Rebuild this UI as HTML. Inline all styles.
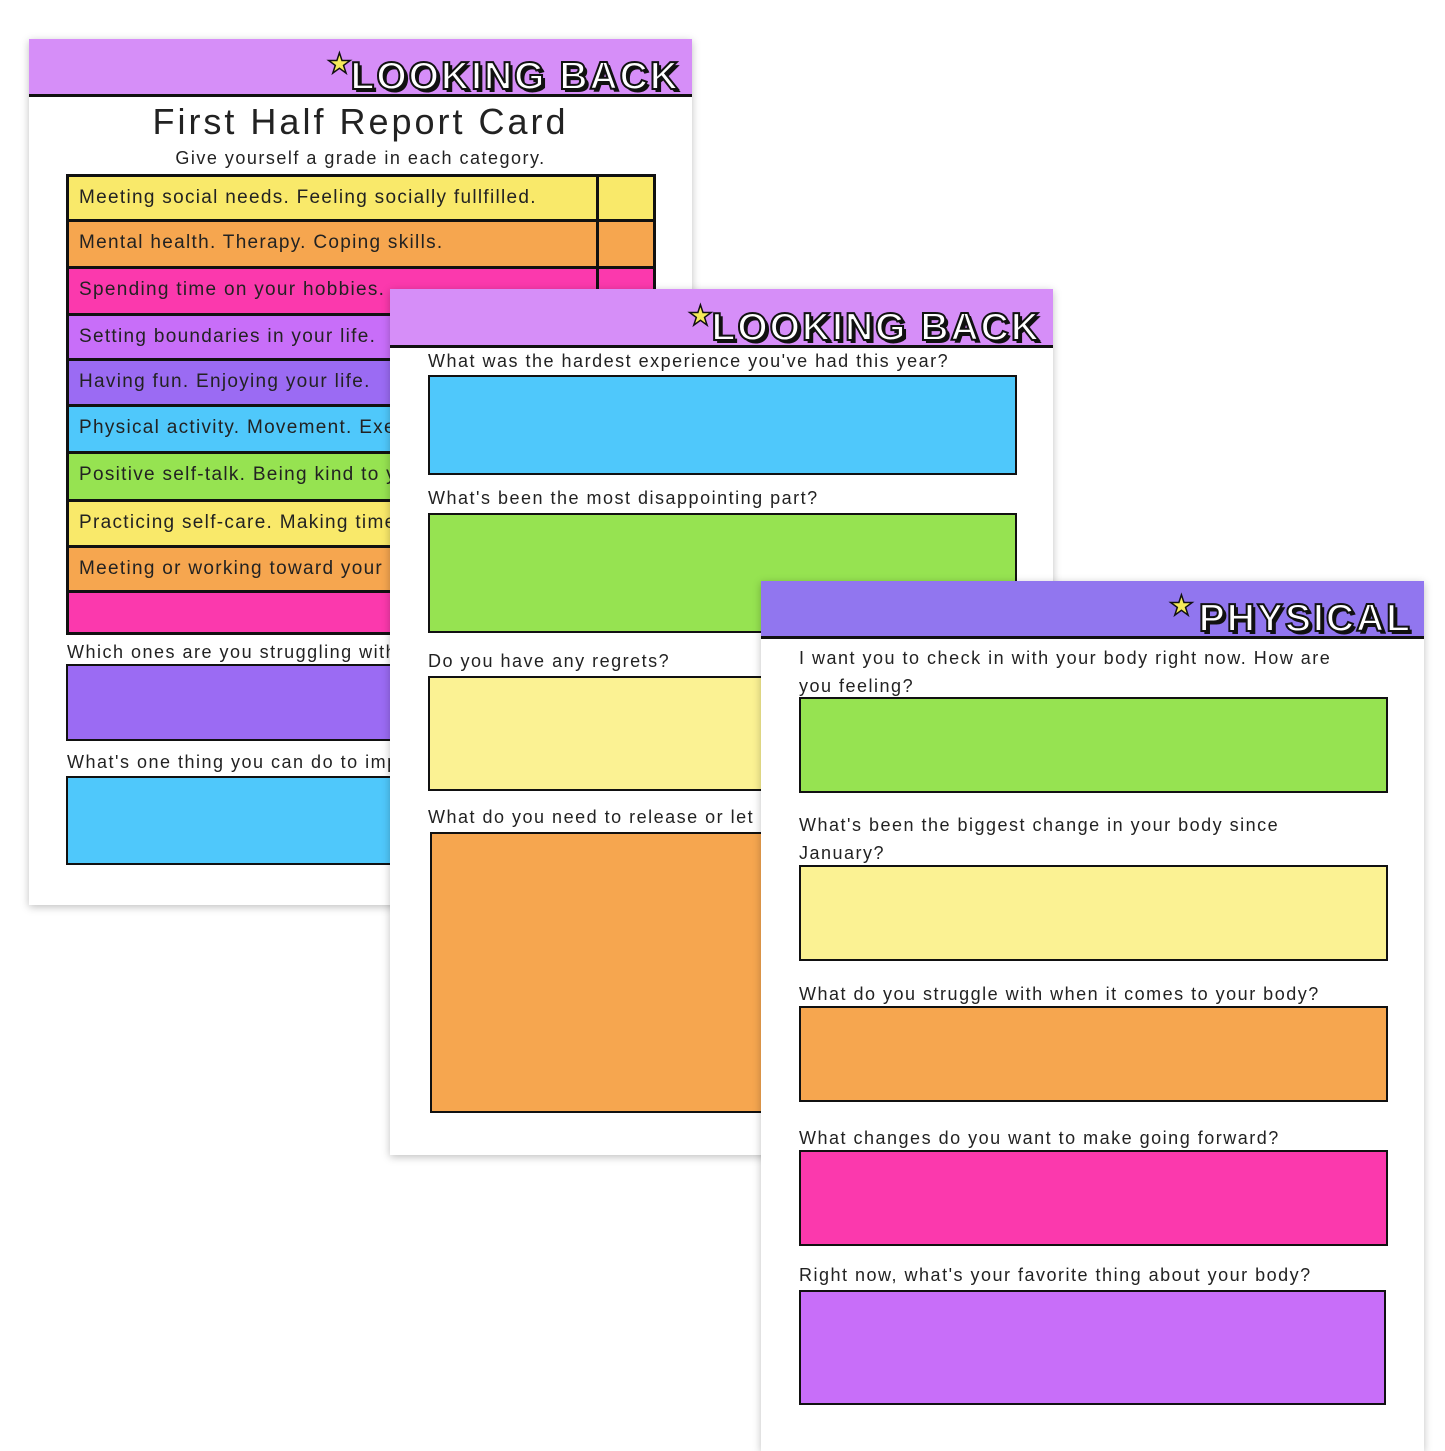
<!DOCTYPE html><html><head><meta charset="utf-8"><style>
body{margin:0;width:1445px;height:1445px;background:#fff;position:relative;overflow:hidden;font-family:"Liberation Sans",sans-serif;color:#222}
.pg{position:absolute;background:#fff;box-shadow:0 2px 8px rgba(0,0,0,.25)}
.hd{position:absolute;left:0;right:0;top:0;border-bottom:3px solid #111}
.tt{position:absolute;right:12px;bottom:-5px;font-weight:bold;font-size:39px;color:#fff;letter-spacing:2px;-webkit-text-stroke:2px #111;text-shadow:3px 3px 0 #111}
.st{position:absolute;color:#f5ea5a;font-size:28px;-webkit-text-stroke:1.5px #111}
.a{position:absolute}
.bx{position:absolute;border:2.5px solid #111;box-sizing:border-box}
.q{position:absolute;font-size:18px;letter-spacing:1.5px;white-space:nowrap}
.row{position:absolute;left:0;width:100%;border-bottom:3px solid #111;box-sizing:border-box;font-size:19px;letter-spacing:1.3px;padding-left:10px;line-height:42px;white-space:nowrap;overflow:hidden}
</style></head><body>
<div class="pg" style="left:29px;top:39px;width:663px;height:866px">
 <div class="hd" style="height:55px;background:#d68ef8"><span class="st" style="right:340px;top:8px">★</span><div class="tt">LOOKING BACK</div></div>
 <div class="a" style="left:0;width:663px;text-align:center;top:62px;font-size:36px;letter-spacing:3px">First Half Report Card</div>
 <div class="a" style="left:0;width:663px;text-align:center;top:109px;font-size:18px;letter-spacing:1.5px">Give yourself a grade in each category.</div>
 <div class="bx" style="left:37px;top:135px;width:590px;height:461px;border-width:3px;overflow:hidden">
  <div class="row" style="top:0;height:45px;background:#f9e96a">Meeting social needs. Feeling socially fullfilled.</div>
  <div class="row" style="top:45px;height:47px;background:#f6a64f">Mental health. Therapy. Coping skills.</div>
  <div class="row" style="top:92px;height:47px;background:#fb39ad">Spending time on your hobbies.</div>
  <div class="row" style="top:139px;height:45px;background:#c86ef9">Setting boundaries in your life.</div>
  <div class="row" style="top:184px;height:46px;background:#9b6bf3">Having fun. Enjoying your life.</div>
  <div class="row" style="top:230px;height:47px;background:#4fc8fb">Physical activity. Movement. Exercise.</div>
  <div class="row" style="top:277px;height:48px;background:#96e351">Positive self-talk. Being kind to yourself.</div>
  <div class="row" style="top:325px;height:46px;background:#f9e96a">Practicing self-care. Making time.</div>
  <div class="row" style="top:371px;height:45px;background:#f6a64f">Meeting or working toward your goals.</div>
  <div class="row" style="top:416px;height:45px;background:#fb39ad;border:0"></div>
  <div class="a" style="left:527px;top:0;width:3px;height:461px;background:#111"></div>
 </div>
 <div class="q" style="left:38px;top:603px">Which ones are you struggling with?</div>
 <div class="bx" style="left:37px;top:625px;width:590px;height:77px;background:#9b6bf3"></div>
 <div class="q" style="left:38px;top:713px">What's one thing you can do to improve?</div>
 <div class="bx" style="left:37px;top:737px;width:590px;height:89px;background:#4fc8fb"></div>
</div>
<div class="pg" style="left:390px;top:289px;width:663px;height:866px">
 <div class="hd" style="height:56px;background:#d68ef8"><span class="st" style="right:340px;top:10px">★</span><div class="tt">LOOKING BACK</div></div>
 <div class="q" style="left:38px;top:62px">What was the hardest experience you've had this year?</div>
 <div class="bx" style="left:38px;top:86px;width:589px;height:100px;background:#4fc8fb"></div>
 <div class="q" style="left:38px;top:199px">What's been the most disappointing part?</div>
 <div class="bx" style="left:38px;top:224px;width:589px;height:120px;background:#96e351"></div>
 <div class="q" style="left:38px;top:362px">Do you have any regrets?</div>
 <div class="bx" style="left:38px;top:387px;width:589px;height:115px;background:#fbf293"></div>
 <div class="q" style="left:38px;top:518px">What do you need to release or let go of?</div>
 <div class="bx" style="left:40px;top:543px;width:587px;height:281px;background:#f6a64f"></div>
</div>
<div class="pg" style="left:761px;top:581px;width:663px;height:870px">
 <div class="hd" style="height:55px;background:#9176ef"><span class="st" style="right:230px;top:8px">★</span><div class="tt">PHYSICAL</div></div>
 <div class="q" style="left:38px;top:63px;line-height:28px">I want you to check in with your body right now. How are<br>you feeling?</div>
 <div class="bx" style="left:38px;top:116px;width:589px;height:96px;background:#96e351"></div>
 <div class="q" style="left:38px;top:230px;line-height:28px">What's been the biggest change in your body since<br>January?</div>
 <div class="bx" style="left:38px;top:284px;width:589px;height:96px;background:#fbf293"></div>
 <div class="q" style="left:38px;top:403px">What do you struggle with when it comes to your body?</div>
 <div class="bx" style="left:38px;top:425px;width:589px;height:96px;background:#f6a64f"></div>
 <div class="q" style="left:38px;top:547px">What changes do you want to make going forward?</div>
 <div class="bx" style="left:38px;top:569px;width:589px;height:96px;background:#fb39ad"></div>
 <div class="q" style="left:38px;top:684px">Right now, what's your favorite thing about your body?</div>
 <div class="bx" style="left:38px;top:709px;width:587px;height:115px;background:#c86ef9"></div>
</div>
</body></html>
